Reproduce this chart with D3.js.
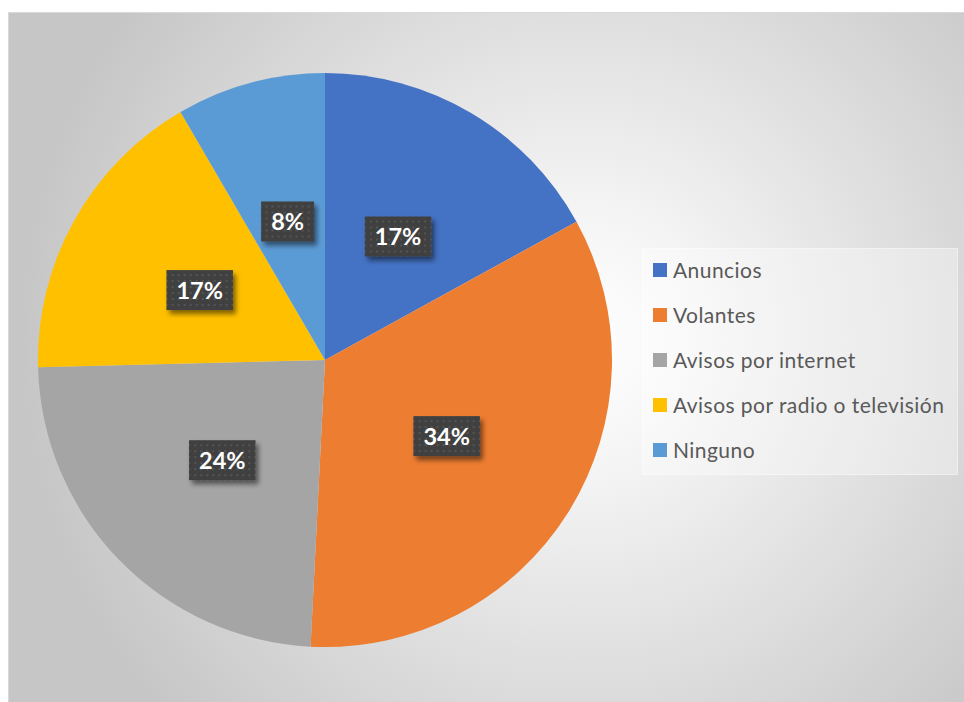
<!DOCTYPE html>
<html><head><meta charset="utf-8">
<script src="https://cdn.jsdelivr.net/npm/d3@7/dist/d3.min.js"></script>
<style>html,body{margin:0;padding:0;background:#fff;}svg{display:block;}</style>
</head><body>
<svg id="chart" width="964" height="702"></svg>
<script>
const categories = ["Anuncios", "Volantes", "Avisos por internet", "Avisos por radio o televisión", "Ninguno"];
const values = [17.0, 33.8, 23.8, 17.0, 8.4];
const colors = ["#4472C4", "#ED7D31", "#A5A5A5", "#FFC000", "#5B9BD5"];

const svg = d3.select("#chart");
const defs = svg.append("defs");

const grad = defs.append("radialGradient").attr("id", "bg")
  .attr("gradientUnits", "userSpaceOnUse")
  .attr("cx", 580).attr("cy", 340).attr("r", 560);
grad.append("stop").attr("offset", "0").attr("stop-color", "#ffffff");
grad.append("stop").attr("offset", "0.2").attr("stop-color", "#f6f6f6");
grad.append("stop").attr("offset", "1").attr("stop-color", "#c6c6c6");

const pat = defs.append("pattern").attr("id", "dots")
  .attr("patternUnits", "userSpaceOnUse").attr("width", 6).attr("height", 6);
pat.append("rect").attr("width", 6).attr("height", 6).attr("fill", "#404040");
pat.append("rect").attr("x", 2).attr("y", 2).attr("width", 2).attr("height", 2).attr("fill", "#545454");

const shadow = defs.append("filter").attr("id", "shadow")
  .attr("x", "-30%").attr("y", "-30%").attr("width", "160%").attr("height", "160%");
shadow.append("feGaussianBlur").attr("in", "SourceAlpha").attr("stdDeviation", 2.5).attr("result", "b");
shadow.append("feOffset").attr("in", "b").attr("dx", 3).attr("dy", 4).attr("result", "o");
shadow.append("feComponentTransfer").attr("in", "o").attr("result", "s")
  .append("feFuncA").attr("type", "linear").attr("slope", 0.5);
const m = shadow.append("feMerge");
m.append("feMergeNode").attr("in", "s");
m.append("feMergeNode").attr("in", "SourceGraphic");

// chart area
svg.append("rect").attr("x", 8.5).attr("y", 12.5).attr("width", 964).attr("height", 702)
  .attr("fill", "url(#bg)").attr("stroke", "#d9d9d9").attr("stroke-width", 1);

const cx = 325, cy = 360, r = 287;
const total = d3.sum(values);
const pie = d3.pie().sort(null).value(d => d)(values);
const arc = d3.arc().innerRadius(0).outerRadius(r);
const labelArc = d3.arc().innerRadius(r * 0.5).outerRadius(r * 0.5);

const g = svg.append("g").attr("transform", `translate(${cx},${cy})`);
g.selectAll("path.slice").data(pie).join("path").attr("class", "slice")
  .attr("d", arc).attr("fill", (d, i) => colors[i]);

const fmt = d3.format(".0%");
const labels = g.selectAll("g.lab").data(pie).join("g").attr("class", "lab")
  .attr("transform", d => `translate(${labelArc.centroid(d)})`);
labels.each(function(d) {
  const sel = d3.select(this);
  const rect = sel.append("rect").attr("fill", "url(#dots)").attr("filter", "url(#shadow)");
  const t = sel.append("text").attr("text-anchor", "middle").attr("dy", "0.36em")
    .attr("font-family", "Lato, 'Open Sans', sans-serif").attr("font-weight", "bold")
    .attr("font-size", 23.5).attr("fill", "#ffffff").text(fmt(d.value / total));
  const w = t.node().getComputedTextLength() + 20;
  rect.attr("x", -w / 2).attr("y", -20).attr("width", w).attr("height", 40);
});

// legend
const lg = svg.append("g");
lg.append("rect").attr("x", 642.5).attr("y", 248.5).attr("width", 315).attr("height", 226)
  .attr("fill", "rgba(255,255,255,0.35)").attr("stroke", "rgba(255,255,255,0.5)");
const items = lg.selectAll("g.item").data(categories).join("g").attr("class", "item")
  .attr("transform", (d, i) => `translate(653,${270 + i * 45})`);
items.append("rect").attr("x", 0).attr("y", -7).attr("width", 14).attr("height", 14)
  .attr("fill", (d, i) => colors[i]);
items.append("text").attr("x", 20).attr("dy", "0.36em")
  .attr("font-family", "Lato, 'Open Sans', sans-serif").attr("font-size", 21)
  .attr("letter-spacing", 0.45)
  .attr("fill", "#595959").text(d => d);
</script>
</body></html>
